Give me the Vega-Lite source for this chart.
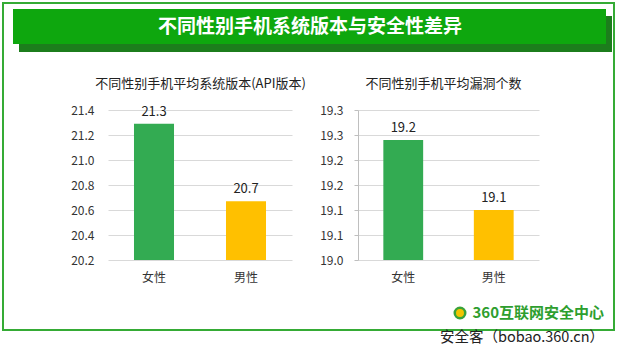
{
  "$schema": "https://vega.github.io/schema/vega-lite/v6.json",
  "width": 611,
  "height": 327,
  "autosize": {"type": "none"},
  "padding": {"left": 3, "top": 3, "right": 5, "bottom": 28},
  "background": "white",
  "config": {
    "view": {"stroke": "#35ab35", "strokeWidth": 2},
    "font": "Noto Sans CJK SC",
    "axis": {"labelFont": "Noto Sans CJK SC", "titleFont": "Noto Sans CJK SC"}
  },
  "title": {
    "text": "360互联网安全中心",
    "subtitle": "安全客（bobao.360.cn）",
    "orient": "bottom",
    "anchor": "end",
    "frame": "group",
    "offset": -24,
    "dx": -10,
    "fontSize": 15,
    "fontWeight": "bold",
    "color": "#2e9e2e",
    "subtitleFontSize": 14.5,
    "subtitleColor": "#222222",
    "subtitlePadding": 10
  },
  "resolve": {
    "scale": {"x": "independent", "y": "independent", "color": "independent"},
    "axis": {"x": "independent", "y": "independent"}
  },
  "layer": [
    {
      "data": {"values": [{}]},
      "mark": {"type": "rect", "color": "#1c7d1c"},
      "encoding": {
        "x": {"datum": 16, "type": "quantitative", "scale": {"domain": [0, 611], "range": [0, 611], "nice": false, "zero": false}, "axis": null},
        "x2": {"datum": 609},
        "y": {"datum": 13, "type": "quantitative", "scale": {"domain": [0, 327], "range": [0, 327], "nice": false, "zero": false}, "axis": null},
        "y2": {"datum": 49}
      }
    },
    {
      "data": {"values": [{}]},
      "mark": {"type": "rect", "color": "#0ea70e"},
      "encoding": {
        "x": {"datum": 10, "type": "quantitative", "scale": {"domain": [0, 611], "range": [0, 611], "nice": false, "zero": false}, "axis": null},
        "x2": {"datum": 603},
        "y": {"datum": 6, "type": "quantitative", "scale": {"domain": [0, 327], "range": [0, 327], "nice": false, "zero": false}, "axis": null},
        "y2": {"datum": 41}
      }
    },
    {
      "data": {"values": [{"t": "不同性别手机系统版本与安全性差异"}]},
      "mark": {"type": "text", "color": "white", "fontSize": 19, "fontWeight": "bold", "baseline": "middle", "align": "center"},
      "encoding": {
        "x": {"datum": 307, "type": "quantitative", "scale": {"domain": [0, 611], "range": [0, 611], "nice": false, "zero": false}, "axis": null},
        "y": {"datum": 23.5, "type": "quantitative", "scale": {"domain": [0, 327], "range": [0, 327], "nice": false, "zero": false}, "axis": null},
        "text": {"field": "t"}
      }
    },
    {
      "data": {"values": [{}]},
      "mark": {"type": "point", "filled": true, "fill": "#f2c500", "stroke": "#3aa33a", "strokeWidth": 2.5, "size": 110, "opacity": 1},
      "encoding": {
        "x": {"datum": 457, "type": "quantitative", "scale": {"domain": [0, 611], "range": [0, 611], "nice": false, "zero": false}, "axis": null},
        "y": {"datum": 310, "type": "quantitative", "scale": {"domain": [0, 327], "range": [0, 327], "nice": false, "zero": false}, "axis": null}
      }
    },
    {
      "data": {"values": [{"性别": "女性", "value": 21.29}, {"性别": "男性", "value": 20.67}]},
      "encoding": {
        "x": {
          "field": "性别", "type": "nominal", "sort": null,
          "scale": {"range": [105, 289], "paddingInner": 0.565, "paddingOuter": 0.2825},
          "axis": {
            "orient": "bottom", "offset": -70, "domain": false, "ticks": false, "grid": false,
            "labelAngle": 0, "labelPadding": 12, "labelFontSize": 12, "labelColor": "#333333",
            "title": "不同性别手机平均系统版本(API版本)", "titleFontSize": 13, "titleFontWeight": "normal",
            "titleColor": "#222222", "titleY": -176.5, "titleBaseline": "middle"
          }
        },
        "y": {
          "field": "value", "type": "quantitative",
          "scale": {"domain": [20.2, 21.4], "range": [257, 107], "nice": false, "zero": false},
          "axis": {
            "orient": "left", "offset": -105, "values": [20.2, 20.4, 20.6, 20.8, 21.0, 21.2, 21.4],
            "format": ".1f", "domain": false, "ticks": false, "labelPadding": 14, "labelFontSize": 12,
            "labelColor": "#333333", "grid": true, "gridColor": "#d9d9d9", "title": null
          }
        }
      },
      "layer": [
        {"mark": {"type": "bar"}, "encoding": {"y2": {"datum": 20.2}, "color": {"field": "性别", "type": "nominal", "scale": {"domain": ["女性", "男性"], "range": ["#33ab52", "#ffc000"]}, "legend": null}}},
        {"mark": {"type": "text", "dy": -8, "baseline": "alphabetic", "fontSize": 13, "color": "#222222"}, "encoding": {"text": {"field": "value", "format": ".1f"}}}
      ]
    },
    {
      "data": {"values": [{"性别": "女性", "value": 19.24}, {"性别": "男性", "value": 19.1}]},
      "encoding": {
        "x": {
          "field": "性别", "type": "nominal", "sort": null,
          "scale": {"range": [355, 536], "paddingInner": 0.56, "paddingOuter": 0.28},
          "axis": {
            "orient": "bottom", "offset": -70, "domain": false, "ticks": false, "grid": false,
            "labelAngle": 0, "labelPadding": 12, "labelFontSize": 12, "labelColor": "#333333",
            "title": "不同性别手机平均漏洞个数", "titleFontSize": 13, "titleFontWeight": "normal",
            "titleColor": "#222222", "titleY": -176.5, "titleX": 440, "titleBaseline": "middle"
          }
        },
        "y": {
          "field": "value", "type": "quantitative",
          "scale": {"domain": [19.0, 19.3], "range": [257, 107], "nice": false, "zero": false},
          "axis": {
            "orient": "left", "offset": -355, "values": [19.0, 19.05, 19.1, 19.15, 19.2, 19.25, 19.3],
            "labelExpr": "format(datum.value + 0.000001, '.1f')", "domain": true, "domainColor": "#bfbfbf",
            "ticks": true, "tickSize": 4, "tickColor": "#bfbfbf", "labelPadding": 11, "labelFontSize": 12,
            "labelColor": "#333333", "grid": true, "gridColor": "#d9d9d9", "title": null
          }
        }
      },
      "layer": [
        {"mark": {"type": "bar"}, "encoding": {"y2": {"datum": 19.0}, "color": {"field": "性别", "type": "nominal", "scale": {"domain": ["女性", "男性"], "range": ["#33ab52", "#ffc000"]}, "legend": null}}},
        {"mark": {"type": "text", "dy": -8, "baseline": "alphabetic", "fontSize": 13, "color": "#222222"}, "encoding": {"text": {"field": "value", "format": ".1f"}}}
      ]
    }
  ]
}
